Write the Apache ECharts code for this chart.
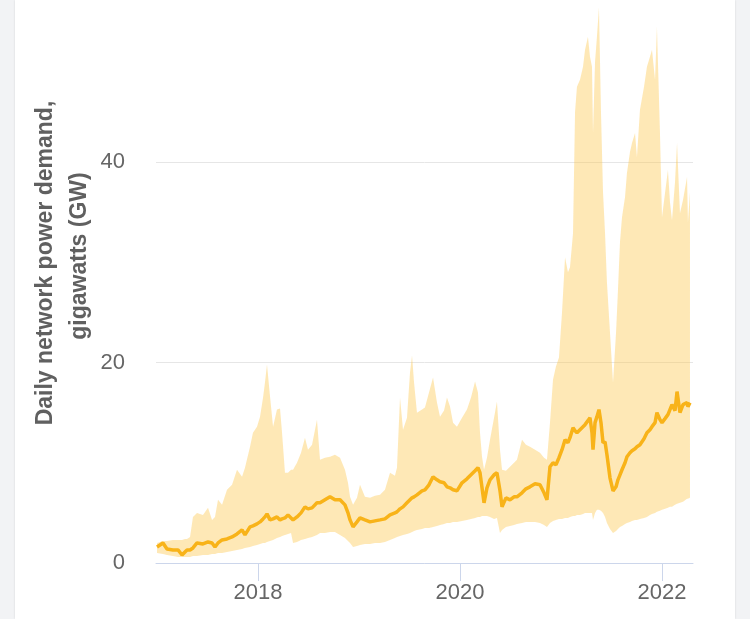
<!DOCTYPE html>
<html>
<head>
<meta charset="utf-8">
<script src="https://cdn.jsdelivr.net/npm/echarts@6/dist/echarts.min.js"></script>
<style>
  html, body { margin: 0; padding: 0; background: #f2f3f5; }
  #card { position: absolute; left: 15px; top: 0; width: 720px; height: 619px; background: #ffffff;
          box-shadow: 0 0 2px rgba(0,0,0,0.12); }
  #chart { position: absolute; left: 0; top: 0; width: 750px; height: 619px; }
</style>
</head>
<body>
<div id="card"></div>
<div id="chart"></div>
<script>
// Decimal years of each sample
const years = [
  2017.000, 2017.059, 2017.099, 2017.158, 2017.208, 2017.248, 2017.277, 2017.297, 2017.327, 2017.356,
  2017.396, 2017.455, 2017.505, 2017.545, 2017.574, 2017.604, 2017.644, 2017.693, 2017.743, 2017.792,
  2017.842, 2017.871, 2017.921, 2017.950, 2017.990, 2018.020, 2018.050, 2018.069, 2018.089, 2018.119,
  2018.149, 2018.188, 2018.218, 2018.238, 2018.267, 2018.297, 2018.327, 2018.347, 2018.386, 2018.426,
  2018.465, 2018.495, 2018.535, 2018.584, 2018.614, 2018.663, 2018.713, 2018.762, 2018.812, 2018.861,
  2018.891, 2018.911, 2018.941, 2018.980, 2019.010, 2019.059, 2019.109, 2019.158, 2019.208, 2019.257,
  2019.307, 2019.356, 2019.376, 2019.406, 2019.436, 2019.475, 2019.505, 2019.525, 2019.545, 2019.574,
  2019.624, 2019.653, 2019.693, 2019.733, 2019.772, 2019.802, 2019.842, 2019.871, 2019.901, 2019.931,
  2019.970, 2020.020, 2020.069, 2020.109, 2020.149, 2020.178, 2020.198, 2020.218, 2020.238, 2020.267,
  2020.297, 2020.337, 2020.366, 2020.396, 2020.416, 2020.455, 2020.495, 2020.535, 2020.564, 2020.614,
  2020.653, 2020.693, 2020.743, 2020.792, 2020.832, 2020.861, 2020.891, 2020.921, 2020.950, 2020.980,
  2021.010, 2021.040, 2021.069, 2021.089, 2021.119, 2021.139, 2021.158, 2021.188, 2021.218, 2021.238,
  2021.267, 2021.287, 2021.307, 2021.317, 2021.337, 2021.356, 2021.376, 2021.396, 2021.416, 2021.436,
  2021.455, 2021.485, 2021.515, 2021.545, 2021.564, 2021.584, 2021.604, 2021.634, 2021.653, 2021.683,
  2021.703, 2021.733, 2021.752, 2021.782, 2021.822, 2021.851, 2021.881, 2021.901, 2021.931, 2021.950,
  2021.980, 2022.000, 2022.030, 2022.059, 2022.079, 2022.099, 2022.129, 2022.149, 2022.178, 2022.208,
  2022.248, 2022.257, 2022.277
];

// Upper bound of daily demand range (GW)
const high = [
  2.0, 2.2, 2.2, 2.3, 2.3, 2.3, 2.4, 2.4, 2.6, 4.6,
  5.0, 4.8, 5.5, 4.3, 4.6, 6.3, 5.8, 7.3, 7.8, 9.3,
  8.6, 9.5, 11.6, 13.0, 13.6, 14.6, 16.5, 18.0, 19.8, 16.6,
  13.6, 15.3, 15.4, 13.0, 9.0, 9.0, 9.3, 9.3, 10.0, 11.0,
  12.5, 11.3, 11.8, 14.3, 10.3, 10.5, 10.6, 10.8, 10.5, 9.3,
  8.0, 6.6, 5.8, 6.5, 7.8, 6.6, 6.5, 6.7, 6.8, 7.3,
  9.0, 8.7, 9.5, 16.5, 13.3, 14.5, 19.0, 20.7, 18.0, 15.0,
  15.3, 15.5, 17.0, 18.5, 16.0, 14.6, 15.2, 16.5, 15.6, 14.0,
  13.6, 14.5, 15.3, 16.5, 18.1, 17.0, 13.0, 10.6, 9.3, 10.5,
  12.3, 14.5, 16.1, 11.3, 9.3, 9.2, 9.6, 10.0, 10.3, 12.3,
  11.8, 11.6, 11.3, 11.0, 10.5, 10.3, 14.0, 18.3, 19.6, 20.5,
  25.0, 30.5, 29.0, 29.5, 32.9, 45.0, 47.5, 48.2, 49.5, 51.2,
  52.5, 50.5, 49.5, 42.9, 50.0, 52.5, 55.4, 45.0, 37.0, 32.9,
  28.0, 23.0, 18.0, 23.0, 27.2, 32.0, 34.5, 36.5, 38.9, 41.0,
  41.9, 42.9, 40.5, 45.2, 47.5, 49.5, 50.5, 51.2, 48.2, 53.5,
  42.9, 34.5, 36.9, 39.2, 36.0, 34.2, 38.0, 41.9, 34.9, 36.2,
  38.5, 34.0, 37.0
];

// Lower bound of daily demand range (GW)
const low = [
  1.0, 0.9, 0.8, 0.7, 0.6, 0.6, 0.6, 0.6, 0.6, 0.7,
  0.7, 0.8, 0.8, 0.9, 0.9, 1.0, 1.0, 1.1, 1.2, 1.3,
  1.4, 1.5, 1.6, 1.7, 1.8, 1.9, 2.0, 2.0, 2.1, 2.2,
  2.3, 2.5, 2.6, 2.7, 2.8, 2.9, 3.0, 2.0, 2.1, 2.3,
  2.4, 2.5, 2.6, 2.8, 3.0, 3.0, 3.1, 3.1, 2.8, 2.5,
  2.2, 2.0, 1.6, 1.7, 1.8, 1.9, 1.9, 2.0, 2.0, 2.1,
  2.3, 2.5, 2.6, 2.7, 2.8, 2.9, 3.0, 3.1, 3.2, 3.3,
  3.4, 3.5, 3.5, 3.6, 3.7, 3.8, 3.9, 4.0, 4.0, 4.1,
  4.1, 4.2, 4.3, 4.4, 4.5, 4.6, 4.6, 4.7, 4.7, 4.7,
  4.6, 4.4, 4.5, 3.0, 3.3, 3.6, 3.7, 3.8, 3.9, 4.0,
  4.1, 4.1, 4.1, 4.0, 3.8, 3.6, 4.0, 4.2, 4.3, 4.4,
  4.4, 4.5, 4.5, 4.6, 4.7, 4.7, 4.8, 4.8, 4.9, 5.0,
  5.0, 5.0, 5.0, 4.3, 5.0, 5.3, 5.3, 5.2, 5.0, 4.6,
  4.0, 3.4, 3.0, 3.2, 3.4, 3.6, 3.7, 3.9, 4.0, 4.1,
  4.2, 4.3, 4.3, 4.4, 4.5, 4.6, 4.8, 4.9, 5.0, 5.1,
  5.2, 5.3, 5.4, 5.5, 5.6, 5.6, 5.8, 5.9, 6.0, 6.1,
  6.4, 6.4, 6.5
];

// Median daily demand (GW)
const median = [
  1.6, 2.0, 1.4, 1.3, 1.3, 0.8, 1.1, 1.3, 1.3, 1.5,
  2.0, 1.9, 2.1, 2.0, 1.6, 2.0, 2.3, 2.4, 2.6, 2.9,
  3.3, 2.8, 3.6, 3.7, 3.9, 4.1, 4.4, 4.6, 4.9, 4.3,
  4.4, 4.6, 4.3, 4.4, 4.5, 4.8, 4.5, 4.3, 4.6, 5.0,
  5.6, 5.4, 5.5, 6.0, 6.0, 6.3, 6.6, 6.3, 6.3, 5.8,
  5.0, 4.3, 3.6, 4.1, 4.5, 4.3, 4.1, 4.2, 4.3, 4.4,
  4.8, 5.0, 5.1, 5.4, 5.6, 6.0, 6.3, 6.5, 6.6, 6.8,
  7.2, 7.3, 7.8, 8.6, 8.3, 8.1, 8.0, 7.6, 7.5, 7.3,
  7.2, 8.0, 8.4, 8.8, 9.2, 9.5, 9.0, 7.5, 6.0, 7.5,
  8.3, 8.8, 9.0, 7.2, 5.6, 6.5, 6.3, 6.6, 6.6, 7.0,
  7.4, 7.6, 7.9, 7.8, 7.0, 6.3, 9.6, 10.0, 9.8, 10.5,
  11.3, 12.3, 12.0, 12.5, 13.5, 13.2, 13.0, 13.3, 13.6, 13.8,
  14.2, 14.5, 13.0, 11.3, 14.0, 14.6, 15.3, 14.0, 12.0, 12.1,
  10.8, 8.5, 7.2, 7.6, 8.3, 8.8, 9.3, 10.0, 10.6, 11.0,
  11.2, 11.4, 11.6, 11.8, 12.4, 13.0, 13.3, 13.6, 14.0, 15.0,
  14.3, 14.0, 14.4, 14.8, 15.3, 15.8, 15.2, 17.1, 15.0, 15.8,
  16.0, 15.6, 16.0
];

const xTickYears = [2018, 2020, 2022];
const yTicks = [0, 20, 40];

const FONT = '"Liberation Sans", Arial, Helvetica, sans-serif';

const medianData = years.map((y, i) => [y, median[i]]);

function renderBand(params, api) {
  if (params.dataIndex !== 0) return null;
  const pts = [];
  for (let i = 0; i < years.length; i++) pts.push(api.coord([years[i], high[i]]));
  for (let i = years.length - 1; i >= 0; i--) pts.push(api.coord([years[i], low[i]]));
  return {
    type: 'polygon',
    shape: { points: pts },
    style: { fill: 'rgba(253, 200, 80, 0.42)', stroke: null }
  };
}

const chart = echarts.init(document.getElementById('chart'), null, { renderer: 'canvas' });
chart.setOption({
  backgroundColor: 'transparent',
  animation: false,
  grid: { left: 156, right: 57, top: 1.6, bottom: 56, containLabel: false },
  xAxis: {
    type: 'value',
    min: 2016.99,
    max: 2022.307,
    splitLine: { show: false },
    axisLine: { show: true, lineStyle: { color: '#ccd6eb', width: 1 } },
    axisTick: { show: true, length: 18, lineStyle: { color: '#ccd6eb', width: 1 }, customValues: xTickYears },
    axisLabel: {
      customValues: xTickYears,
      fontSize: 22, color: '#666666', fontFamily: FONT, margin: 19,
      formatter: v => String(Math.round(v))
    }
  },
  yAxis: {
    type: 'value',
    min: 0, max: 56, interval: 20,
    axisLine: { show: false },
    axisTick: { show: false },
    splitLine: { show: true, showMaxLine: false, lineStyle: { color: '#e6e6e6', width: 1 } },
    axisLabel: {
      showMaxLabel: false,
      fontSize: 22, color: '#666666', fontFamily: FONT, margin: 31,
      formatter: v => (yTicks.indexOf(v) >= 0 ? String(v) : '')
    }
  },
  graphic: [
    {
      type: 'text', x: 46, y: 263, rotation: Math.PI / 2,
      style: { text: 'Daily network power demand,', fontSize: 23, fontWeight: 'bold', fontFamily: FONT,
               fill: '#606060', align: 'center', verticalAlign: 'middle' }
    },
    {
      type: 'text', x: 80, y: 256, rotation: Math.PI / 2,
      style: { text: 'gigawatts (GW)', fontSize: 23, fontWeight: 'bold', fontFamily: FONT,
               fill: '#606060', align: 'center', verticalAlign: 'middle' }
    }
  ],
  series: [
    {
      name: 'range', type: 'custom', renderItem: renderBand,
      data: [[years[0], low[0]]], silent: true, z: 2, clip: true
    },
    {
      name: 'median', type: 'line', data: medianData, symbol: 'none',
      lineStyle: { color: '#f8b319', width: 3.5 }, z: 3
    }
  ]
});
</script>
</body>
</html>
